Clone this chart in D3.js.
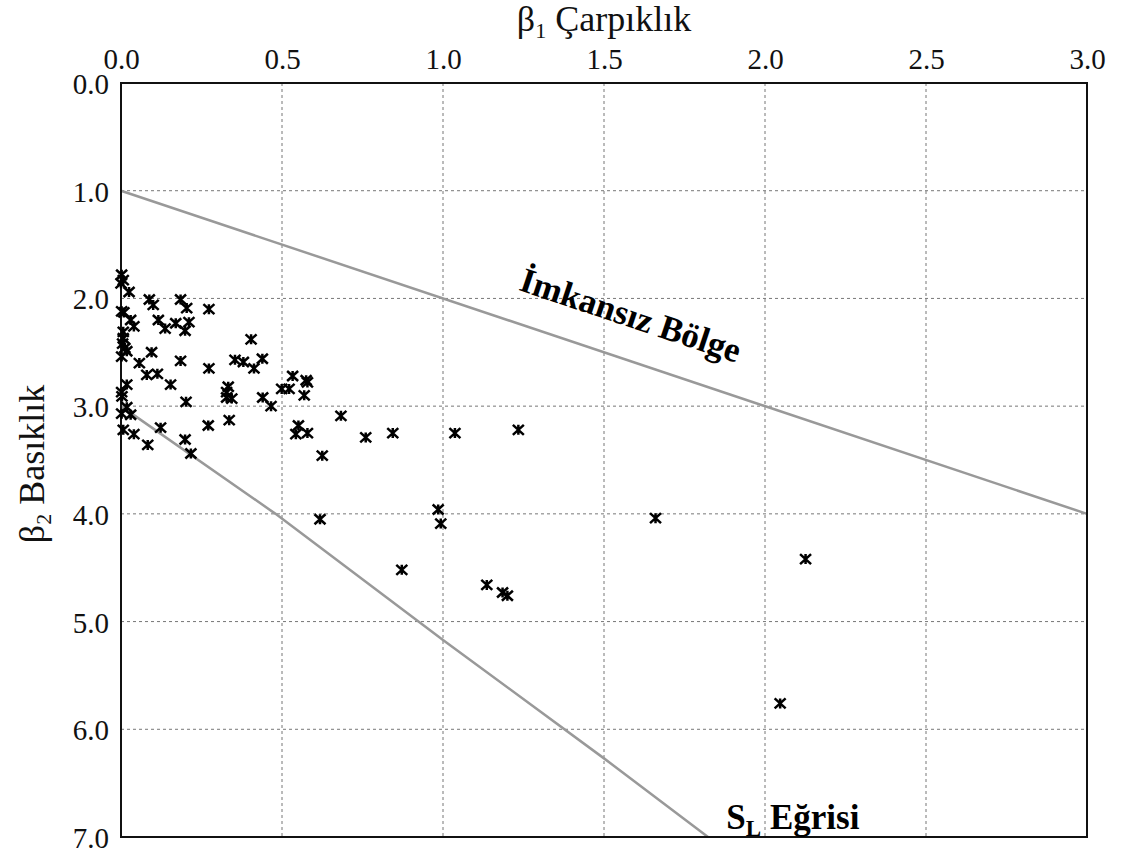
<!DOCTYPE html>
<html>
<head>
<meta charset="utf-8">
<script src="https://cdn.jsdelivr.net/npm/d3@7"></script>
<style>
  html, body { margin: 0; padding: 0; background: #fff; }
  svg { display: block; font-family: "Liberation Serif", "Times New Roman", serif; }
</style>
</head>
<body>
<svg id="chart" width="1122" height="857"></svg>
<script>
// Skewness (β1) and kurtosis (β2) of each sample
const beta1 = [
  0.002, 0.007, 0.000, 0.025, 0.088, 0.100, 0.185, 0.204, 0.273, 0.002,
  0.009, 0.030, 0.040, 0.116, 0.137, 0.170, 0.211, 0.199, 0.007, 0.007,
  0.005, 0.012, 0.018, 0.002, 0.404, 0.095, 0.057, 0.185, 0.273, 0.354,
  0.380, 0.413, 0.439, 0.080, 0.113, 0.154, 0.018, 0.002, 0.003, 0.333,
  0.328, 0.328, 0.344, 0.499, 0.522, 0.533, 0.575, 0.579, 0.569, 0.440,
  0.466, 0.202, 0.018, 0.002, 0.030, 0.007, 0.040, 0.123, 0.083, 0.199,
  0.217, 0.271, 0.336, 0.551, 0.543, 0.579, 0.683, 0.625, 0.760, 0.844,
  1.037, 1.234, 0.985, 0.993, 0.872, 1.136, 1.185, 1.200, 1.660, 2.126,
  2.047, 0.618
];
const beta2 = [
  1.78, 1.83, 1.86, 1.94, 2.01, 2.06, 2.01, 2.09, 2.10, 2.12,
  2.13, 2.20, 2.26, 2.20, 2.28, 2.23, 2.22, 2.30, 2.31, 2.37,
  2.42, 2.46, 2.49, 2.54, 2.38, 2.50, 2.60, 2.58, 2.65, 2.57,
  2.59, 2.65, 2.56, 2.71, 2.70, 2.80, 2.80, 2.87, 2.91, 2.82,
  2.87, 2.92, 2.93, 2.84, 2.84, 2.72, 2.76, 2.78, 2.90, 2.92,
  3.00, 2.96, 3.01, 3.07, 3.08, 3.22, 3.26, 3.20, 3.36, 3.31,
  3.44, 3.18, 3.13, 3.18, 3.26, 3.25, 3.09, 3.46, 3.29, 3.25,
  3.25, 3.22, 3.96, 4.09, 4.52, 4.66, 4.73, 4.76, 4.04, 4.42,
  5.76, 4.05
];

// Impossible-region boundary: β2 = β1 + 1
const limitB1 = [0, 3];
const limitB2 = [1, 4];

// S_L curve
const slB1 = [0, 0.48, 1.0, 1.5, 1.823];
const slB2 = [3, 4.0, 5.17, 6.27, 7.0];

const xTicks = [0, 0.5, 1.0, 1.5, 2.0, 2.5, 3.0];
const yTicks = [0, 1, 2, 3, 4, 5, 6, 7];

const margin = { left: 121, top: 83, right: 1122 - 1087, bottom: 857 - 837 };
const W = 1122 - margin.left - margin.right;
const H = 857 - margin.top - margin.bottom;

const svg = d3.select("#chart");
const g = svg.append("g").attr("transform", `translate(${margin.left},${margin.top})`);

const x = d3.scaleLinear().domain([0, 3]).range([0, W]);
const y = d3.scaleLinear().domain([0, 7]).range([0, H]);

// grid
g.append("g").selectAll("line").data(xTicks.slice(1, -1)).join("line")
  .attr("x1", d => x(d)).attr("x2", d => x(d)).attr("y1", 0).attr("y2", H)
  .attr("stroke", "#777").attr("stroke-width", 1).attr("stroke-dasharray", "3,3");
g.append("g").selectAll("line").data(yTicks.slice(1, -1)).join("line")
  .attr("y1", d => y(d)).attr("y2", d => y(d)).attr("x1", 0).attr("x2", W)
  .attr("stroke", "#777").attr("stroke-width", 1).attr("stroke-dasharray", "3,3");

// axes (labels only)
const xAxis = d3.axisTop(x).tickValues(xTicks).tickFormat(d3.format(".1f")).tickSize(0).tickPadding(14);
const yAxis = d3.axisLeft(y).tickValues(yTicks).tickFormat(d3.format(".1f")).tickSize(0).tickPadding(12);
const gx = g.append("g").call(xAxis);
const gy = g.append("g").call(yAxis);
[gx, gy].forEach(a => {
  a.select(".domain").remove();
  a.selectAll("text").attr("font-family", "Liberation Serif, Times New Roman, serif")
    .attr("font-size", 29).attr("fill", "#111");
});
gy.selectAll("text").attr("dy", "0.36em");

// reference curves
const line = d3.line().x(d => x(d[0])).y(d => y(d[1]));
g.append("path").datum(d3.zip(limitB1, limitB2)).attr("d", line)
  .attr("fill", "none").attr("stroke", "#999").attr("stroke-width", 2.5);
g.append("path").datum(d3.zip(slB1, slB2)).attr("d", line)
  .attr("fill", "none").attr("stroke", "#999").attr("stroke-width", 2.5);

// frame
g.append("rect").attr("x", 0).attr("y", 0).attr("width", W).attr("height", H)
  .attr("fill", "none").attr("stroke", "#111").attr("stroke-width", 2);

// star markers (X with a vertical stroke)
const star = "M-5.5,-5L5.5,5M-5.5,5L5.5,-5M0,-5L0,5";
g.append("g").selectAll("path").data(d3.zip(beta1, beta2)).join("path")
  .attr("transform", d => `translate(${x(d[0])},${y(d[1])})`)
  .attr("d", star).attr("stroke", "#000").attr("stroke-width", 2.5).attr("fill", "none");

// region labels
const ang = Math.atan2(y(4) - y(1), x(3) - x(0)) * 180 / Math.PI;
g.append("text")
  .attr("transform", `translate(${x(1.232)},${y(1.92)}) rotate(${ang})`)
  .attr("font-size", 35).attr("font-weight", "bold").attr("fill", "#000")
  .text("İmkansız Bölge");

const sl = g.append("text").attr("x", x(1.88)).attr("y", y(6.93))
  .attr("font-size", 35).attr("font-weight", "bold").attr("fill", "#000");
sl.append("tspan").text("S");
sl.append("tspan").attr("font-size", 23).attr("dy", 7).text("L");
sl.append("tspan").attr("dy", -7).text(" Eğrisi");

// axis titles
const tx = svg.append("text").attr("x", 604).attr("y", 31).attr("text-anchor", "middle")
  .attr("font-size", 36).attr("fill", "#111");
tx.append("tspan").text("β");
tx.append("tspan").attr("font-size", 22).attr("dy", 7).text("1");
tx.append("tspan").attr("dy", -7).text(" Çarpıklık");

const ty = svg.append("text").attr("transform", "translate(44,464) rotate(-90)")
  .attr("text-anchor", "middle").attr("font-size", 36).attr("fill", "#111");
ty.append("tspan").text("β");
ty.append("tspan").attr("font-size", 22).attr("dy", 7).text("2");
ty.append("tspan").attr("dy", -7).text(" Basıklık");
</script>
</body>
</html>
